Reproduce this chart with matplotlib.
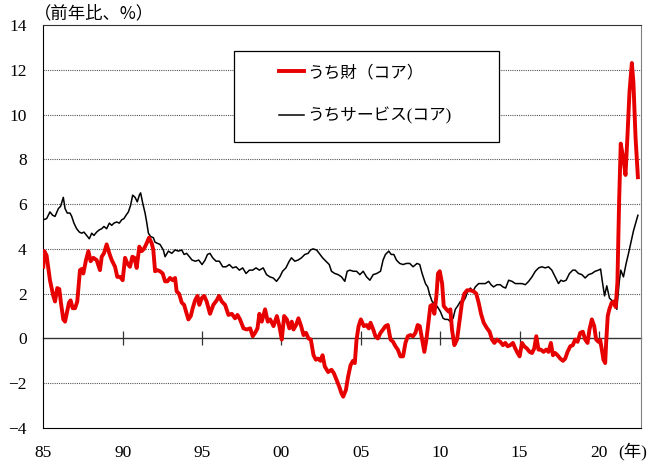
import numpy as np
import matplotlib
matplotlib.use("Agg")
import matplotlib.pyplot as plt
from matplotlib import font_manager
from matplotlib.patches import Rectangle

installed = {f.name for f in font_manager.fontManager.ttflist}
serif = "Liberation Serif" if "Liberation Serif" in installed else "DejaVu Serif"
jp = ["Noto Sans CJK JP", "DejaVu Sans"]
mixed = [serif, "Noto Sans CJK JP", "DejaVu Sans"]
plt.rcParams['font.family'] = mixed

# (year, % y/y)
goods = [
    (1985.00, 3.2), (1985.06, 3.9), (1985.21, 3.7), (1985.42, 2.6), (1985.63, 1.9), (1985.74, 1.65),
    (1985.88, 2.25), (1986.01, 2.2), (1986.11, 1.6), (1986.26, 0.85), (1986.37, 0.75), (1986.47, 1.1),
    (1986.62, 1.6), (1986.72, 1.7), (1986.85, 1.35), (1987.00, 1.35), (1987.14, 1.65), (1987.31, 3.05),
    (1987.42, 3.1), (1987.52, 2.9), (1987.69, 3.5), (1987.84, 3.9), (1987.98, 3.45), (1988.15, 3.6),
    (1988.36, 3.5), (1988.57, 3.05), (1988.68, 3.65), (1988.82, 3.8), (1988.99, 4.2), (1989.16, 3.8),
    (1989.31, 3.5), (1989.52, 3.2), (1989.66, 2.75), (1989.83, 2.75), (1990.00, 2.6), (1990.15, 3.6),
    (1990.29, 3.35), (1990.46, 3.2), (1990.61, 3.65), (1990.74, 3.6), (1990.88, 3.15), (1991.05, 4.1),
    (1991.20, 3.9), (1991.34, 4.0), (1991.51, 4.25), (1991.66, 4.5), (1991.83, 4.25), (1991.93, 3.95),
    (1992.04, 3.0), (1992.18, 3.05), (1992.35, 3.0), (1992.52, 2.9), (1992.67, 2.55), (1992.82, 2.55),
    (1992.98, 2.7), (1993.15, 2.6), (1993.30, 2.7), (1993.40, 2.1), (1993.55, 2.0), (1993.72, 1.6),
    (1993.87, 1.5), (1993.99, 1.2), (1994.14, 0.85), (1994.29, 1.0), (1994.41, 1.35), (1994.56, 1.7),
    (1994.71, 1.9), (1994.83, 1.5), (1994.98, 1.8), (1995.13, 1.9), (1995.29, 1.65), (1995.50, 1.1),
    (1995.71, 1.5), (1995.92, 1.7), (1996.07, 1.9), (1996.24, 1.65), (1996.45, 1.5), (1996.66, 1.05),
    (1996.87, 1.1), (1997.08, 0.9), (1997.23, 1.05), (1997.39, 0.85), (1997.61, 0.45), (1997.82, 0.4),
    (1998.03, 0.45), (1998.19, 0.1), (1998.34, 0.25), (1998.49, 0.45), (1998.61, 1.1), (1998.76, 0.75),
    (1998.97, 1.3), (1999.14, 0.75), (1999.29, 0.85), (1999.50, 0.55), (1999.71, 1.0), (1999.87, 0.55),
    (2000.02, -0.05), (2000.17, 1.0), (2000.34, 0.85), (2000.50, 0.45), (2000.65, 0.75), (2000.76, 0.4),
    (2000.92, 0.6), (2001.07, 0.9), (2001.24, 0.55), (2001.39, 0.15), (2001.55, 0.25), (2001.70, 0.0),
    (2001.85, -0.05), (2002.02, -0.75), (2002.17, -0.95), (2002.31, -0.9), (2002.46, -1.0), (2002.59, -0.75),
    (2002.73, -1.25), (2002.94, -1.5), (2003.15, -1.4), (2003.30, -1.55), (2003.47, -1.85), (2003.64, -2.15),
    (2003.78, -2.45), (2003.89, -2.6), (2004.06, -2.3), (2004.20, -1.7), (2004.35, -1.2), (2004.50, -1.0),
    (2004.62, -1.1), (2004.73, -0.05), (2004.86, 0.55), (2005.00, 0.85), (2005.19, 0.55), (2005.36, 0.6),
    (2005.50, 0.45), (2005.61, 0.7), (2005.78, 0.4), (2005.92, 0.1), (2006.07, 0.0), (2006.24, 0.25),
    (2006.40, 0.4), (2006.55, 0.55), (2006.70, 0.6), (2006.87, -0.05), (2007.03, -0.15), (2007.18, -0.35),
    (2007.33, -0.5), (2007.49, -0.8), (2007.66, -0.8), (2007.81, -0.2), (2007.96, 0.1), (2008.12, 0.15),
    (2008.29, 0.1), (2008.44, 0.25), (2008.58, 0.6), (2008.71, 0.55), (2008.86, -0.05), (2009.00, -0.6),
    (2009.13, -0.05), (2009.28, 0.85), (2009.38, 1.45), (2009.49, 1.5), (2009.63, 1.1), (2009.76, 1.9),
    (2009.86, 2.9), (2009.97, 3.0), (2010.12, 2.45), (2010.22, 1.45), (2010.39, 1.3), (2010.53, 1.2),
    (2010.64, 1.3), (2010.74, 0.4), (2010.89, -0.3), (2011.06, -0.05), (2011.23, 0.85), (2011.37, 1.6),
    (2011.52, 2.0), (2011.69, 2.15), (2011.90, 2.15), (2012.11, 2.1), (2012.27, 2.0), (2012.42, 1.6),
    (2012.57, 1.1), (2012.74, 0.7), (2012.95, 0.45), (2013.11, 0.3), (2013.26, -0.05), (2013.41, -0.2),
    (2013.57, -0.05), (2013.78, -0.15), (2013.95, -0.3), (2014.10, -0.2), (2014.25, -0.35), (2014.41, -0.3),
    (2014.58, -0.2), (2014.73, -0.45), (2014.87, -0.65), (2015.00, -0.8), (2015.15, -0.2), (2015.29, -0.35),
    (2015.46, -0.45), (2015.63, -0.6), (2015.78, -0.65), (2015.92, -0.45), (2016.05, 0.1), (2016.19, -0.5),
    (2016.34, -0.5), (2016.51, -0.6), (2016.68, -0.5), (2016.82, -0.6), (2016.97, -0.2), (2017.10, -0.75),
    (2017.24, -0.65), (2017.39, -0.75), (2017.56, -0.9), (2017.73, -1.0), (2017.87, -0.9), (2018.02, -0.6),
    (2018.19, -0.35), (2018.35, -0.3), (2018.50, -0.05), (2018.65, -0.15), (2018.82, 0.25), (2018.98, 0.3),
    (2019.13, -0.05), (2019.28, -0.2), (2019.40, 0.4), (2019.55, 0.85), (2019.70, 0.55), (2019.82, -0.05),
    (2019.97, -0.15), (2020.07, -0.05), (2020.18, -0.5), (2020.28, -0.95), (2020.39, -1.1), (2020.45, -0.2),
    (2020.55, 1.0), (2020.65, 1.3), (2020.80, 1.6), (2020.95, 1.65), (2021.05, 1.4), (2021.16, 2.5),
    (2021.27, 6.2), (2021.37, 8.7), (2021.54, 8.0), (2021.67, 7.3), (2021.79, 9.0), (2021.92, 11.0),
    (2022.07, 12.3), (2022.17, 11.4), (2022.30, 9.0), (2022.45, 7.2),
]

services = [
    (1985.00, 5.3), (1985.21, 5.35), (1985.42, 5.65), (1985.59, 5.5), (1985.74, 5.45), (1985.95, 5.8),
    (1986.09, 5.9), (1986.26, 6.3), (1986.37, 5.8), (1986.51, 5.6), (1986.68, 5.6), (1986.79, 5.45),
    (1986.93, 5.15), (1987.10, 4.9), (1987.27, 4.75), (1987.42, 4.7), (1987.56, 4.75), (1987.73, 4.6),
    (1987.90, 4.45), (1988.05, 4.7), (1988.19, 4.6), (1988.36, 4.75), (1988.53, 4.85), (1988.68, 4.9),
    (1988.82, 5.0), (1988.99, 4.9), (1989.16, 5.15), (1989.31, 5.05), (1989.45, 5.15), (1989.62, 5.2),
    (1989.79, 5.15), (1989.94, 5.3), (1990.08, 5.35), (1990.21, 5.5), (1990.36, 5.65), (1990.50, 5.95),
    (1990.63, 6.4), (1990.78, 6.3), (1990.92, 6.1), (1991.05, 6.4), (1991.13, 6.5), (1991.26, 6.05),
    (1991.41, 5.6), (1991.51, 5.2), (1991.62, 4.7), (1991.76, 4.55), (1991.93, 4.5), (1992.04, 4.3),
    (1992.18, 4.25), (1992.35, 4.2), (1992.56, 3.95), (1992.67, 3.65), (1992.88, 3.9), (1993.09, 3.8),
    (1993.30, 3.95), (1993.51, 3.9), (1993.72, 3.95), (1993.87, 3.75), (1994.03, 3.8), (1994.20, 3.65),
    (1994.37, 3.5), (1994.58, 3.45), (1994.79, 3.5), (1995.00, 3.3), (1995.19, 3.5), (1995.34, 3.75),
    (1995.50, 3.8), (1995.67, 3.6), (1995.88, 3.45), (1996.09, 3.45), (1996.30, 3.2), (1996.51, 3.2),
    (1996.72, 3.3), (1996.93, 3.15), (1997.14, 3.2), (1997.35, 3.05), (1997.56, 3.15), (1997.77, 2.9),
    (1997.98, 3.05), (1998.19, 3.05), (1998.40, 3.15), (1998.61, 3.05), (1998.85, 3.15), (1999.06, 2.85),
    (1999.27, 2.75), (1999.48, 2.7), (1999.69, 2.55), (1999.90, 2.75), (2000.07, 3.0), (2000.28, 3.15),
    (2000.49, 3.45), (2000.63, 3.6), (2000.84, 3.45), (2001.05, 3.5), (2001.26, 3.6), (2001.47, 3.75),
    (2001.68, 3.8), (2001.83, 3.95), (2001.99, 4.0), (2002.21, 3.95), (2002.38, 3.8), (2002.59, 3.6),
    (2002.80, 3.45), (2003.01, 3.3), (2003.15, 3.0), (2003.36, 2.9), (2003.57, 2.85), (2003.78, 2.75),
    (2003.99, 2.55), (2004.14, 3.0), (2004.31, 3.05), (2004.52, 3.0), (2004.73, 3.0), (2004.94, 2.85),
    (2005.15, 3.0), (2005.36, 2.75), (2005.57, 2.6), (2005.78, 2.85), (2006.00, 2.9), (2006.24, 3.0),
    (2006.40, 3.5), (2006.55, 3.75), (2006.76, 3.9), (2006.91, 3.75), (2007.08, 3.75), (2007.24, 3.5),
    (2007.45, 3.35), (2007.66, 3.3), (2007.87, 3.35), (2008.08, 3.35), (2008.29, 3.2), (2008.54, 3.35),
    (2008.71, 3.3), (2008.86, 2.9), (2009.07, 2.45), (2009.21, 2.3), (2009.34, 1.95), (2009.49, 1.65),
    (2009.70, 1.5), (2009.84, 1.4), (2010.01, 1.2), (2010.18, 0.9), (2010.32, 0.85), (2010.49, 0.85),
    (2010.64, 0.75), (2010.81, 0.9), (2010.95, 1.3), (2011.10, 1.45), (2011.27, 1.65), (2011.44, 1.65),
    (2011.58, 1.8), (2011.73, 2.1), (2011.90, 2.25), (2012.06, 2.1), (2012.21, 2.3), (2012.42, 2.45),
    (2012.63, 2.45), (2012.84, 2.45), (2013.05, 2.55), (2013.20, 2.4), (2013.36, 2.3), (2013.57, 2.4),
    (2013.78, 2.4), (2013.95, 2.3), (2014.12, 2.25), (2014.31, 2.6), (2014.52, 2.55), (2014.73, 2.45),
    (2014.94, 2.45), (2015.15, 2.45), (2015.36, 2.4), (2015.57, 2.55), (2015.78, 2.75), (2015.99, 3.0),
    (2016.20, 3.15), (2016.40, 3.2), (2016.61, 3.15), (2016.82, 3.2), (2017.03, 3.05), (2017.24, 2.75),
    (2017.45, 2.45), (2017.60, 2.6), (2017.76, 2.55), (2017.93, 2.6), (2018.14, 2.9), (2018.35, 3.05),
    (2018.50, 3.05), (2018.71, 2.9), (2018.92, 2.85), (2019.13, 2.7), (2019.34, 2.85), (2019.55, 2.9),
    (2019.76, 3.0), (2019.97, 3.05), (2020.10, 3.1), (2020.22, 2.5), (2020.35, 1.9), (2020.49, 2.35),
    (2020.66, 1.8), (2020.81, 1.7), (2020.98, 1.6), (2021.12, 1.3), (2021.27, 2.5), (2021.37, 3.05),
    (2021.54, 2.75), (2021.71, 3.35), (2021.86, 3.8), (2022.00, 4.25), (2022.17, 4.8), (2022.45, 5.5),
]

year_ticks = [1985, 1990, 1995, 2000, 2005, 2010, 2015, 2020]
year_labels = ["85", "90", "95", "00", "05", "10", "15", "20"]
y_ticks = [-4, -2, 0, 2, 4, 6, 8, 10, 12, 14]
label_goods = "うち財（コア）"
label_serv = "うちサービス(コア)"

gx, gy = np.array(goods).T
sx, sy = np.array(services).T

fig = plt.figure(figsize=(6.51, 4.66), dpi=100)
ax = fig.add_axes([0.0665, 0.0815, 0.918, 0.865])

ax.set_xlim(1985, 2022.64)
ax.set_ylim(-4, 14)

# dotted grid
ax.set_yticks(y_ticks)
for v in y_ticks:
    if v not in (0, -4, 14):
        ax.axhline(v, color="#555555", lw=0.8, ls=(0, (1, 1)), zorder=1)

l_s, = ax.plot(sx, sy, color="black", lw=1.1, zorder=3)
l_g, = ax.plot(gx, gy, color="#e60000", lw=2.8, zorder=4)

# zero line with year ticks through it
sec = ax.secondary_xaxis(4 / 18)
sec.set_xticks(year_ticks[1:])
sec.tick_params(direction="inout", length=10, width=0.9, color="#333333", labelbottom=False, labeltop=False)
sec.spines["bottom"].set_color("#333333")
sec.spines["bottom"].set_linewidth(1.0)
sec.set_zorder(2)

ax.set_xticks(year_ticks)
ax.set_xticklabels(year_labels)
ax.tick_params(axis="x", length=0, pad=12, labelsize=12.5)
ax.tick_params(axis="y", length=0, pad=12, labelsize=12.5)
for lab in ax.get_xticklabels() + ax.get_yticklabels():
    lab.set_fontfamily(serif)

ax.spines["left"].set_color("black")
ax.spines["bottom"].set_color("black")
ax.spines["right"].set_color("#808080")
ax.spines["top"].set_linestyle((0, (1, 1)))
ax.spines["top"].set_color("#333333")

ax.text(-0.016, 1.006, "（前年比、%）", transform=ax.transAxes, ha="left", va="bottom",
        fontsize=12.5, family=jp)
ax.text(0.962, -0.057, "(年)", transform=ax.transAxes, ha="left", va="center",
        fontsize=12.5, family=mixed, clip_on=False)

# legend frame
ax.add_patch(Rectangle((0.319, 0.7097), 0.443, 0.2258, transform=ax.transAxes,
                       facecolor="white", edgecolor="black", lw=0.9, zorder=5))
leg = ax.legend([l_g, l_s], [label_goods, label_serv], loc="upper left",
                bbox_to_anchor=(0.370, 0.937), frameon=False,
                handlelength=1.5, handletextpad=0.15, labelspacing=1.55,
                prop={"family": mixed, "size": 12})
leg.set_zorder(6)

fig.savefig("out.png", dpi=100)
